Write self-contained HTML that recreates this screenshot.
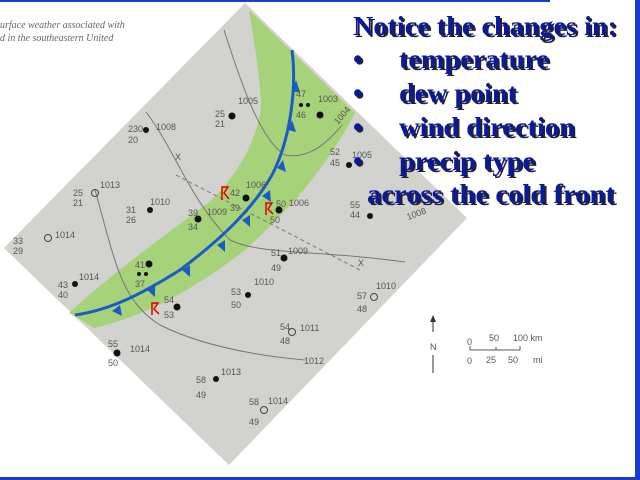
<!DOCTYPE html>
<html><head><meta charset="utf-8"><style>
html,body{margin:0;padding:0;background:#fff;}
svg{display:block;}
.st{font-family:"Liberation Sans",sans-serif;font-size:9px;fill:#555;}
.tt{font-family:"Liberation Serif",serif;font-weight:bold;font-size:27px;fill:#0a1a9a;}
.sh{font-family:"Liberation Serif",serif;font-weight:bold;font-size:27px;fill:#223;}
</style></head><body>
<svg width="640" height="480" viewBox="0 0 640 480">
<rect x="0" y="0" width="550" height="2" fill="#1a3ad0"/>
<rect x="635" y="0" width="5" height="480" fill="#1a3ad0"/>
<rect x="0" y="477" width="640" height="3" fill="#1a3ad0"/>
<text x="0" y="28" font-family="Liberation Serif,serif" font-style="italic" font-size="10" fill="#666">urface weather associated with</text>
<text x="0" y="41" font-family="Liberation Serif,serif" font-style="italic" font-size="10" fill="#666">d in the southeastern United</text>
<polygon points="245,3 467,218 229,465 4,248" fill="#d2d2ce"/>
<path d="M249,10 L355,113 C330,160 300,200 245,250 C200,285 150,315 94,328 L69,313 C110,275 165,235 208,203 C240,175 262,130 261,100 C258,60 252,30 249,10 Z" fill="#a6d27a"/>
<g fill="none" stroke="#777" stroke-width="1">
<path d="M224,30 C240,80 260,140 285,155 C310,160 330,140 342,125"/>
<path d="M146,112 C175,150 190,200 230,240 C260,255 320,250 405,262"/>
<path d="M95,190 C115,260 120,300 160,325 C200,345 250,355 305,360"/>
</g>
<path d="M176,175 L360,270" stroke="#777" stroke-dasharray="4,3" fill="none"/>
<path d="M292,50 C297,90 290,140 272,175 C252,210 220,240 180,270 C140,295 110,310 75,315" stroke="#1a5cc0" stroke-width="3" fill="none"/>
<g fill="#1a5cc0">
<polygon points="296,80 300,92 292,92"/><polygon points="292,120 296,132 288,130"/>
<polygon points="283,160 286,172 277,168"/><polygon points="270,190 271,202 262,196"/>
<polygon points="250,215 250,227 242,220"/><polygon points="225,240 225,252 217,245"/>
<polygon points="190,265 190,277 182,270"/><polygon points="155,285 155,297 147,290"/>
<polygon points="120,305 122,316 112,311"/>
</g>
<g class="st">
<text x="215" y="117">25</text><text x="215" y="127">21</text><text x="238" y="104">1005</text>
<text x="128" y="132">230</text><text x="128" y="143">20</text><text x="156" y="130">1008</text>
<text x="296" y="97">47</text><text x="296" y="118">46</text><text x="318" y="102">1003</text><text x="338" y="125" transform="rotate(-50 338 125)">1004</text>
<text x="330" y="155">52</text><text x="330" y="166">45</text><text x="352" y="158">1005</text>
<text x="73" y="196">25</text><text x="73" y="206">21</text><text x="100" y="188">1013</text>
<text x="126" y="213">31</text><text x="126" y="223">26</text><text x="150" y="205">1010</text>
<text x="230" y="196">42</text><text x="230" y="211">39</text><text x="246" y="188">1006</text>
<text x="276" y="207">50</text><text x="289" y="206">1006</text><text x="270" y="223">50</text>
<text x="188" y="216">39</text><text x="188" y="230">34</text><text x="207" y="215">1009</text>
<text x="350" y="208">55</text><text x="350" y="218">44</text><text x="408" y="220" transform="rotate(-20 408 220)">1008</text>
<text x="13" y="244">33</text><text x="13" y="254">29</text><text x="55" y="238">1014</text>
<text x="271" y="256">51</text><text x="271" y="271">49</text><text x="288" y="254">1009</text>
<text x="135" y="268">41</text><text x="135" y="287">37</text>
<text x="58" y="288">43</text><text x="58" y="298">40</text><text x="79" y="280">1014</text>
<text x="254" y="285">1010</text><text x="231" y="295">53</text><text x="231" y="308">50</text>
<text x="164" y="303">54</text><text x="164" y="318">53</text>
<text x="357" y="299">57</text><text x="357" y="312">48</text><text x="376" y="289">1010</text>
<text x="280" y="330">54</text><text x="280" y="344">48</text><text x="300" y="331">1011</text>
<text x="108" y="347">55</text><text x="108" y="366">50</text><text x="130" y="352">1014</text>
<text x="304" y="364">1012</text>
<text x="196" y="383">58</text><text x="196" y="398">49</text><text x="221" y="375">1013</text>
<text x="249" y="405">58</text><text x="249" y="425">49</text><text x="268" y="404">1014</text>
<text x="175" y="160">X</text><text x="358" y="266">X</text>
</g>
<g fill="#111">
<circle cx="232" cy="116" r="3.5"/><circle cx="146" cy="130" r="3"/><circle cx="320" cy="115" r="3.5"/>
<circle cx="301" cy="105" r="2"/><circle cx="308" cy="105" r="2"/><circle cx="349" cy="165" r="3"/>
<circle cx="150" cy="210" r="3"/><circle cx="246" cy="198" r="3.5"/><circle cx="279" cy="210" r="3.5"/>
<circle cx="198" cy="219" r="3.5"/><circle cx="370" cy="216" r="3"/><circle cx="284" cy="258" r="3.5"/>
<circle cx="149" cy="264" r="3.5"/><circle cx="139" cy="274" r="2"/><circle cx="146" cy="274" r="2"/>
<circle cx="75" cy="284" r="3"/><circle cx="248" cy="295" r="3"/><circle cx="177" cy="307" r="3.5"/>
<circle cx="117" cy="353" r="3.5"/><circle cx="216" cy="379" r="3"/>
</g>
<g fill="none" stroke="#444">
<circle cx="95" cy="193" r="3.5"/><circle cx="48" cy="238" r="3.5"/><circle cx="374" cy="297" r="3.5"/>
<circle cx="292" cy="332" r="3.5"/><circle cx="264" cy="410" r="3.5"/>
</g>
<g fill="none" stroke="#d00" stroke-width="1.5">
<path d="M222,200 L222,187 L228,187 L224,193 L229,199"/>
<path d="M266,215 L266,203 L272,203 L268,209 L273,214"/>
<path d="M152,315 L152,303 L158,303 L154,309 L159,314"/>
</g>
<g>
<line x1="433" y1="320" x2="433" y2="332" stroke="#333"/><polygon points="433,315 430,322 436,322" fill="#333"/>
<text x="430" y="350" class="st">N</text><line x1="433" y1="355" x2="433" y2="373" stroke="#333"/>
<text x="467" y="345" class="st">0</text><text x="489" y="341" class="st">50</text><text x="513" y="341" class="st">100 km</text>
<path d="M470,346 L470,350 L520,350 L520,346 M496,347 L496,350" stroke="#555" fill="none"/>
<text x="467" y="364" class="st">0</text><text x="486" y="363" class="st">25</text><text x="508" y="363" class="st">50</text><text x="533" y="363" class="st">mi</text>
</g>
<g>
<text class="sh" x="355" y="37" textLength="264" lengthAdjust="spacingAndGlyphs">Notice the changes in:</text>
<text class="tt" x="353" y="35" textLength="264" lengthAdjust="spacingAndGlyphs">Notice the changes in:</text>
<text class="sh" x="355" y="70">•</text><text class="tt" x="353" y="68">•</text>
<text class="sh" x="401" y="70" textLength="150" lengthAdjust="spacingAndGlyphs">temperature</text>
<text class="tt" x="399" y="68" textLength="150" lengthAdjust="spacingAndGlyphs">temperature</text>
<text class="sh" x="355" y="104">•</text><text class="tt" x="353" y="102">•</text>
<text class="sh" x="401" y="104" textLength="118" lengthAdjust="spacingAndGlyphs">dew point</text>
<text class="tt" x="399" y="102" textLength="118" lengthAdjust="spacingAndGlyphs">dew point</text>
<text class="sh" x="355" y="138">•</text><text class="tt" x="353" y="136">•</text>
<text class="sh" x="401" y="138" textLength="176" lengthAdjust="spacingAndGlyphs">wind direction</text>
<text class="tt" x="399" y="136" textLength="176" lengthAdjust="spacingAndGlyphs">wind direction</text>
<text class="sh" x="355" y="172">•</text><text class="tt" x="353" y="170">•</text>
<text class="sh" x="401" y="172" textLength="136" lengthAdjust="spacingAndGlyphs">precip type</text>
<text class="tt" x="399" y="170" textLength="136" lengthAdjust="spacingAndGlyphs">precip type</text>
<text class="sh" x="369" y="205" textLength="248" lengthAdjust="spacingAndGlyphs">across the cold front</text>
<text class="tt" x="367" y="203" textLength="248" lengthAdjust="spacingAndGlyphs">across the cold front</text>
</g>
</svg>
</body></html>
